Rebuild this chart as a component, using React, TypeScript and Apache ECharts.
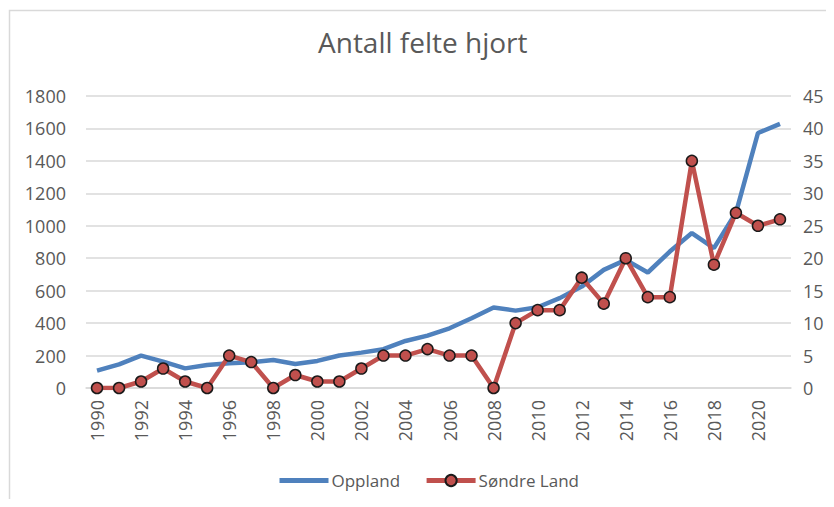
import React, { useEffect, useRef } from "react";
import * as echarts from "echarts";

const years = [
  "1990", "1991", "1992", "1993", "1994", "1995", "1996", "1997", "1998", "1999",
  "2000", "2001", "2002", "2003", "2004", "2005", "2006", "2007", "2008", "2009",
  "2010", "2011", "2012", "2013", "2014", "2015", "2016", "2017", "2018", "2019",
  "2020", "2021",
];

const oppland = [
  107, 146, 200, 163, 121, 142, 152, 158, 173, 148,
  167, 200, 218, 239, 290, 323, 368, 430, 496, 477,
  498, 554, 625, 728, 790, 712, 841, 955, 862, 1080,
  1572, 1628,
];

const sondreLand = [
  0, 0, 1, 3, 1, 0, 5, 4, 0, 2,
  1, 1, 3, 5, 5, 6, 5, 5, 0, 10,
  12, 12, 17, 13, 20, 14, 14, 35, 19, 27,
  25, 26,
];

const leftTicks = { min: 0, max: 1800, interval: 200 };
const rightTicks = { min: 0, max: 45, interval: 5 };

export default function App() {
  const ref = useRef<HTMLDivElement>(null);

  useEffect(() => {
    if (!ref.current) return;
    const chart = echarts.init(ref.current, undefined, { renderer: "svg" });
    const labelColor = "#595959";
    const font = "Open Sans";
    chart.setOption({
      animation: false,
      backgroundColor: "#ffffff",
      title: {
        text: "Antall felte hjort",
        left: 318,
        top: 28,
        padding: 0,
        textStyle: {
          fontFamily: font,
          fontSize: 28,
          fontWeight: "normal",
          color: labelColor,
        },
      },
      graphic: [
        {
          type: "rect",
          shape: { x: 9.5, y: 10.5, width: 900, height: 600 },
          style: { fill: "none", stroke: "#d9d9d9", lineWidth: 1.5 },
          silent: true,
        },
      ],
      legend: {
        left: 277,
        top: 472,
        padding: 0,
        itemWidth: 49,
        itemHeight: 14,
        itemGap: 24,
        textStyle: { fontFamily: font, fontSize: 17, color: labelColor, padding: [0, 0, 0, -2] },
        data: [
          { name: "Oppland", itemStyle: { opacity: 0 }, lineStyle: { width: 5 } },
          { name: "Søndre Land", lineStyle: { width: 5 } },
        ],
      },
      grid: { left: 86, right: 43, top: 96, bottom: 119 },
      xAxis: {
        type: "category",
        data: years,
        boundaryGap: true,
        axisLine: { show: true, lineStyle: { color: "#d9d9d9", width: 1.5 } },
        axisTick: { show: false },
        axisLabel: {
          rotate: 90,
          interval: 1,
          margin: 12,
          fontFamily: font,
          fontSize: 18,
          color: labelColor,
        },
      },
      yAxis: [
        {
          type: "value",
          min: leftTicks.min,
          max: leftTicks.max,
          interval: leftTicks.interval,
          axisLine: { show: false },
          axisTick: { show: false },
          splitLine: { lineStyle: { color: "#d9d9d9", width: 1.5 } },
          axisLabel: {
            margin: 20,
            fontFamily: font,
            fontSize: 18,
            color: labelColor,
            formatter: (v: number) => String(v),
          },
        },
        {
          type: "value",
          min: rightTicks.min,
          max: rightTicks.max,
          interval: rightTicks.interval,
          axisLine: { show: false },
          axisTick: { show: false },
          splitLine: { show: false },
          axisLabel: { margin: 12, fontFamily: font, fontSize: 18, color: labelColor },
        },
      ],
      series: [
        {
          name: "Oppland",
          type: "line",
          yAxisIndex: 0,
          data: oppland,
          symbol: "none",
          lineStyle: { color: "#4F81BD", width: 4.5 },
          itemStyle: { color: "#4F81BD" },
        },
        {
          name: "Søndre Land",
          type: "line",
          yAxisIndex: 1,
          data: sondreLand,
          symbol: "circle",
          symbolSize: 11,
          lineStyle: { color: "#C0504D", width: 4.5 },
          itemStyle: { color: "#C0504D", borderColor: "#1a1a1a", borderWidth: 1.5 },
        },
      ],
    });
    return () => chart.dispose();
  }, []);

  return <div ref={ref} style={{ width: 834, height: 507, margin: -8 }} />;
}
